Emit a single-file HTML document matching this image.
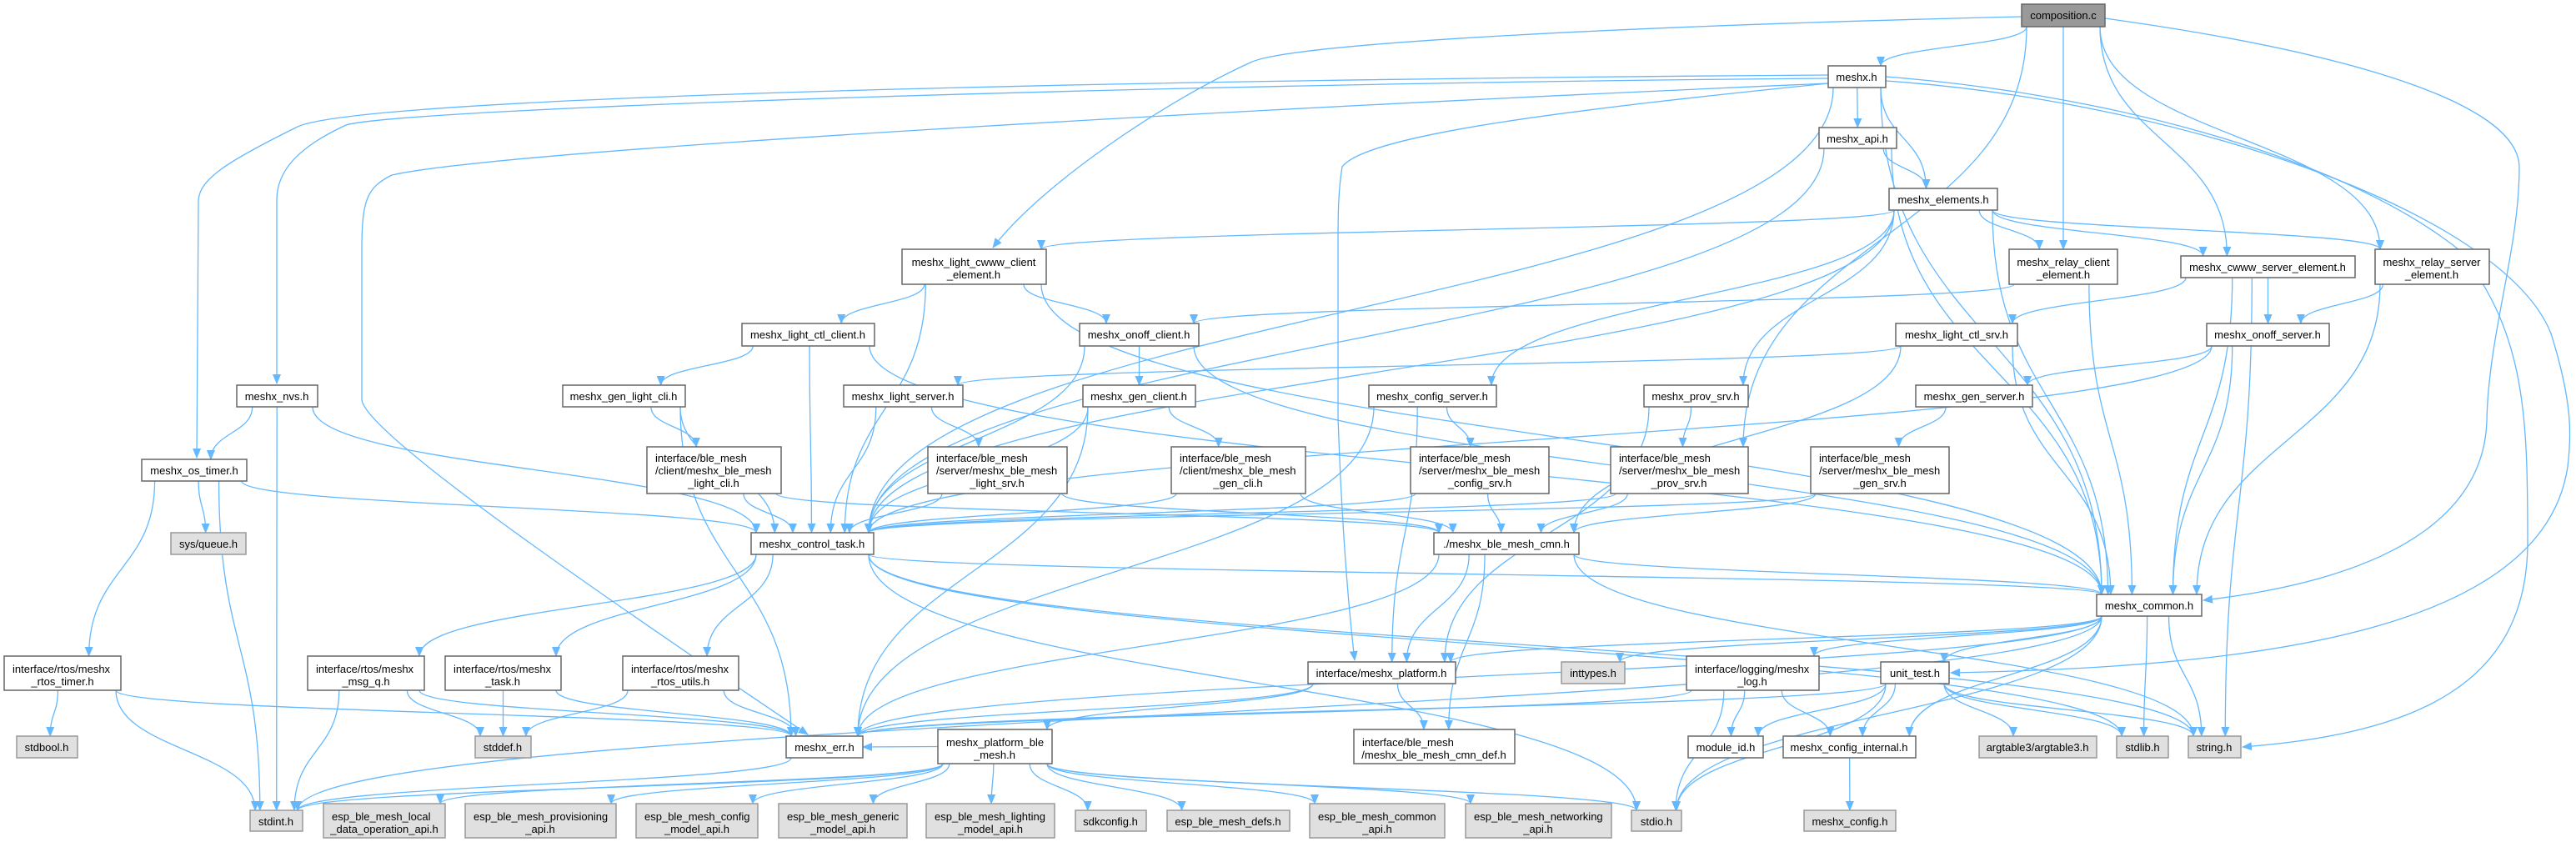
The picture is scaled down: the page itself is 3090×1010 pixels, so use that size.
<!DOCTYPE html>
<html><head><meta charset="utf-8"><style>
html,body{margin:0;padding:0;background:#fff;}
svg{display:block;}
text{font-family:"Liberation Sans",Arial,sans-serif;font-size:13px;fill:#000;}
</style></head><body>
<svg id="s" width="3090" height="1010" viewBox="0 0 3090 1010" xmlns="http://www.w3.org/2000/svg">
<defs><marker id="ar" markerWidth="12" markerHeight="10" refX="11" refY="5" orient="auto" markerUnits="userSpaceOnUse"><path d="M0,0 L12,5 L0,10 z" fill="#63b8ff"/></marker></defs>
<g id="edges" fill="none" stroke="#63b8ff" stroke-width="1.3"></g>
<g id="nodes">
<rect x="2425" y="5" width="100" height="27" fill="#999" stroke="#666" stroke-width="1.5"/><text x="2475" y="23" text-anchor="middle">composition.c</text>
<rect x="2193" y="79" width="69" height="26" fill="#fff" stroke="#666" stroke-width="1.5"/><text x="2227" y="97" text-anchor="middle">meshx.h</text>
<rect x="2182" y="153" width="93" height="25" fill="#fff" stroke="#666" stroke-width="1.5"/><text x="2228" y="171" text-anchor="middle">meshx_api.h</text>
<rect x="2266" y="226" width="130" height="26" fill="#fff" stroke="#666" stroke-width="1.5"/><text x="2331" y="244" text-anchor="middle">meshx_elements.h</text>
<rect x="2410" y="299" width="130" height="42" fill="#fff" stroke="#666" stroke-width="1.5"/><text x="2475" y="319" text-anchor="middle">meshx_relay_client</text><text x="2475" y="334" text-anchor="middle">_element.h</text>
<rect x="2616" y="307" width="209" height="26" fill="#fff" stroke="#666" stroke-width="1.5"/><text x="2720" y="325" text-anchor="middle">meshx_cwww_server_element.h</text>
<rect x="2849" y="299" width="137" height="42" fill="#fff" stroke="#666" stroke-width="1.5"/><text x="2917" y="319" text-anchor="middle">meshx_relay_server</text><text x="2917" y="334" text-anchor="middle">_element.h</text>
<rect x="1082" y="299" width="173" height="42" fill="#fff" stroke="#666" stroke-width="1.5"/><text x="1168" y="319" text-anchor="middle">meshx_light_cwww_client</text><text x="1168" y="334" text-anchor="middle">_element.h</text>
<rect x="890" y="388" width="159" height="27" fill="#fff" stroke="#666" stroke-width="1.5"/><text x="969" y="406" text-anchor="middle">meshx_light_ctl_client.h</text>
<rect x="1295" y="388" width="143" height="27" fill="#fff" stroke="#666" stroke-width="1.5"/><text x="1366" y="406" text-anchor="middle">meshx_onoff_client.h</text>
<rect x="2274" y="388" width="146" height="27" fill="#fff" stroke="#666" stroke-width="1.5"/><text x="2347" y="406" text-anchor="middle">meshx_light_ctl_srv.h</text>
<rect x="2647" y="388" width="147" height="27" fill="#fff" stroke="#666" stroke-width="1.5"/><text x="2720" y="406" text-anchor="middle">meshx_onoff_server.h</text>
<rect x="284" y="462" width="97" height="26" fill="#fff" stroke="#666" stroke-width="1.5"/><text x="332" y="480" text-anchor="middle">meshx_nvs.h</text>
<rect x="675" y="462" width="147" height="26" fill="#fff" stroke="#666" stroke-width="1.5"/><text x="748" y="480" text-anchor="middle">meshx_gen_light_cli.h</text>
<rect x="1012" y="462" width="143" height="26" fill="#fff" stroke="#666" stroke-width="1.5"/><text x="1083" y="480" text-anchor="middle">meshx_light_server.h</text>
<rect x="1299" y="462" width="135" height="26" fill="#fff" stroke="#666" stroke-width="1.5"/><text x="1366" y="480" text-anchor="middle">meshx_gen_client.h</text>
<rect x="1642" y="462" width="153" height="26" fill="#fff" stroke="#666" stroke-width="1.5"/><text x="1718" y="480" text-anchor="middle">meshx_config_server.h</text>
<rect x="1972" y="462" width="125" height="26" fill="#fff" stroke="#666" stroke-width="1.5"/><text x="2034" y="480" text-anchor="middle">meshx_prov_srv.h</text>
<rect x="2298" y="462" width="140" height="26" fill="#fff" stroke="#666" stroke-width="1.5"/><text x="2368" y="480" text-anchor="middle">meshx_gen_server.h</text>
<rect x="170" y="551" width="126" height="26" fill="#fff" stroke="#666" stroke-width="1.5"/><text x="233" y="569" text-anchor="middle">meshx_os_timer.h</text>
<rect x="776" y="536" width="161" height="56" fill="#fff" stroke="#666" stroke-width="1.5"/><text x="786" y="554">interface/ble_mesh</text><text x="786" y="569">/client/meshx_ble_mesh</text><text x="856" y="584" text-anchor="middle">_light_cli.h</text>
<rect x="1113" y="536" width="167" height="56" fill="#fff" stroke="#666" stroke-width="1.5"/><text x="1123" y="554">interface/ble_mesh</text><text x="1123" y="569">/server/meshx_ble_mesh</text><text x="1196" y="584" text-anchor="middle">_light_srv.h</text>
<rect x="1405" y="536" width="161" height="56" fill="#fff" stroke="#666" stroke-width="1.5"/><text x="1415" y="554">interface/ble_mesh</text><text x="1415" y="569">/client/meshx_ble_mesh</text><text x="1485" y="584" text-anchor="middle">_gen_cli.h</text>
<rect x="1692" y="536" width="166" height="56" fill="#fff" stroke="#666" stroke-width="1.5"/><text x="1702" y="554">interface/ble_mesh</text><text x="1702" y="569">/server/meshx_ble_mesh</text><text x="1775" y="584" text-anchor="middle">_config_srv.h</text>
<rect x="1932" y="536" width="165" height="56" fill="#fff" stroke="#666" stroke-width="1.5"/><text x="1942" y="554">interface/ble_mesh</text><text x="1942" y="569">/server/meshx_ble_mesh</text><text x="2014" y="584" text-anchor="middle">_prov_srv.h</text>
<rect x="2172" y="536" width="166" height="56" fill="#fff" stroke="#666" stroke-width="1.5"/><text x="2182" y="554">interface/ble_mesh</text><text x="2182" y="569">/server/meshx_ble_mesh</text><text x="2255" y="584" text-anchor="middle">_gen_srv.h</text>
<rect x="205" y="639" width="90" height="26" fill="#e0e0e0" stroke="#999" stroke-width="1.5"/><text x="250" y="657" text-anchor="middle">sys/queue.h</text>
<rect x="901" y="639" width="147" height="26" fill="#fff" stroke="#666" stroke-width="1.5"/><text x="974" y="657" text-anchor="middle">meshx_control_task.h</text>
<rect x="1720" y="639" width="174" height="26" fill="#fff" stroke="#666" stroke-width="1.5"/><text x="1807" y="657" text-anchor="middle">./meshx_ble_mesh_cmn.h</text>
<rect x="2515" y="713" width="126" height="26" fill="#fff" stroke="#666" stroke-width="1.5"/><text x="2578" y="731" text-anchor="middle">meshx_common.h</text>
<rect x="5" y="787" width="140" height="41" fill="#fff" stroke="#666" stroke-width="1.5"/><text x="15" y="807">interface/rtos/meshx</text><text x="75" y="822" text-anchor="middle">_rtos_timer.h</text>
<rect x="369" y="787" width="140" height="41" fill="#fff" stroke="#666" stroke-width="1.5"/><text x="379" y="807">interface/rtos/meshx</text><text x="439" y="822" text-anchor="middle">_msg_q.h</text>
<rect x="534" y="787" width="139" height="41" fill="#fff" stroke="#666" stroke-width="1.5"/><text x="544" y="807">interface/rtos/meshx</text><text x="603" y="822" text-anchor="middle">_task.h</text>
<rect x="747" y="787" width="139" height="41" fill="#fff" stroke="#666" stroke-width="1.5"/><text x="757" y="807">interface/rtos/meshx</text><text x="816" y="822" text-anchor="middle">_rtos_utils.h</text>
<rect x="1569" y="794" width="177" height="26" fill="#fff" stroke="#666" stroke-width="1.5"/><text x="1657" y="812" text-anchor="middle">interface/meshx_platform.h</text>
<rect x="1873" y="794" width="76" height="26" fill="#e0e0e0" stroke="#999" stroke-width="1.5"/><text x="1911" y="812" text-anchor="middle">inttypes.h</text>
<rect x="2023" y="787" width="159" height="41" fill="#fff" stroke="#666" stroke-width="1.5"/><text x="2033" y="807">interface/logging/meshx</text><text x="2102" y="822" text-anchor="middle">_log.h</text>
<rect x="2256" y="794" width="82" height="26" fill="#fff" stroke="#666" stroke-width="1.5"/><text x="2297" y="812" text-anchor="middle">unit_test.h</text>
<rect x="20" y="883" width="73" height="26" fill="#e0e0e0" stroke="#999" stroke-width="1.5"/><text x="56" y="901" text-anchor="middle">stdbool.h</text>
<rect x="570" y="883" width="67" height="26" fill="#e0e0e0" stroke="#999" stroke-width="1.5"/><text x="603" y="901" text-anchor="middle">stddef.h</text>
<rect x="943" y="883" width="92" height="26" fill="#fff" stroke="#666" stroke-width="1.5"/><text x="989" y="901" text-anchor="middle">meshx_err.h</text>
<rect x="1125" y="875" width="137" height="41" fill="#fff" stroke="#666" stroke-width="1.5"/><text x="1135" y="895">meshx_platform_ble</text><text x="1193" y="910" text-anchor="middle">_mesh.h</text>
<rect x="1624" y="875" width="193" height="41" fill="#fff" stroke="#666" stroke-width="1.5"/><text x="1634" y="895">interface/ble_mesh</text><text x="1720" y="910" text-anchor="middle">/meshx_ble_mesh_cmn_def.h</text>
<rect x="2025" y="883" width="90" height="26" fill="#fff" stroke="#666" stroke-width="1.5"/><text x="2070" y="901" text-anchor="middle">module_id.h</text>
<rect x="2139" y="883" width="159" height="26" fill="#fff" stroke="#666" stroke-width="1.5"/><text x="2218" y="901" text-anchor="middle">meshx_config_internal.h</text>
<rect x="2374" y="883" width="141" height="26" fill="#e0e0e0" stroke="#999" stroke-width="1.5"/><text x="2444" y="901" text-anchor="middle">argtable3/argtable3.h</text>
<rect x="2539" y="883" width="62" height="26" fill="#e0e0e0" stroke="#999" stroke-width="1.5"/><text x="2570" y="901" text-anchor="middle">stdlib.h</text>
<rect x="2625" y="883" width="63" height="26" fill="#e0e0e0" stroke="#999" stroke-width="1.5"/><text x="2656" y="901" text-anchor="middle">string.h</text>
<rect x="300" y="972" width="63" height="25" fill="#e0e0e0" stroke="#999" stroke-width="1.5"/><text x="331" y="990" text-anchor="middle">stdint.h</text>
<rect x="388" y="964" width="146" height="41" fill="#e0e0e0" stroke="#999" stroke-width="1.5"/><text x="398" y="984">esp_ble_mesh_local</text><text x="461" y="999" text-anchor="middle">_data_operation_api.h</text>
<rect x="558" y="964" width="181" height="41" fill="#e0e0e0" stroke="#999" stroke-width="1.5"/><text x="568" y="984">esp_ble_mesh_provisioning</text><text x="648" y="999" text-anchor="middle">_api.h</text>
<rect x="763" y="964" width="146" height="41" fill="#e0e0e0" stroke="#999" stroke-width="1.5"/><text x="773" y="984">esp_ble_mesh_config</text><text x="836" y="999" text-anchor="middle">_model_api.h</text>
<rect x="934" y="964" width="154" height="41" fill="#e0e0e0" stroke="#999" stroke-width="1.5"/><text x="944" y="984">esp_ble_mesh_generic</text><text x="1011" y="999" text-anchor="middle">_model_api.h</text>
<rect x="1111" y="964" width="154" height="41" fill="#e0e0e0" stroke="#999" stroke-width="1.5"/><text x="1121" y="984">esp_ble_mesh_lighting</text><text x="1188" y="999" text-anchor="middle">_model_api.h</text>
<rect x="1290" y="972" width="85" height="25" fill="#e0e0e0" stroke="#999" stroke-width="1.5"/><text x="1332" y="990" text-anchor="middle">sdkconfig.h</text>
<rect x="1400" y="972" width="147" height="25" fill="#e0e0e0" stroke="#999" stroke-width="1.5"/><text x="1473" y="990" text-anchor="middle">esp_ble_mesh_defs.h</text>
<rect x="1571" y="964" width="162" height="41" fill="#e0e0e0" stroke="#999" stroke-width="1.5"/><text x="1581" y="984">esp_ble_mesh_common</text><text x="1652" y="999" text-anchor="middle">_api.h</text>
<rect x="1758" y="964" width="175" height="41" fill="#e0e0e0" stroke="#999" stroke-width="1.5"/><text x="1768" y="984">esp_ble_mesh_networking</text><text x="1845" y="999" text-anchor="middle">_api.h</text>
<rect x="1957" y="972" width="60" height="25" fill="#e0e0e0" stroke="#999" stroke-width="1.5"/><text x="1987" y="990" text-anchor="middle">stdio.h</text>
<rect x="2164" y="972" width="110" height="25" fill="#e0e0e0" stroke="#999" stroke-width="1.5"/><text x="2219" y="990" text-anchor="middle">meshx_config.h</text>
</g>
</svg>
<script>
var N={
comp:[2425,2525,5,32],meshx:[2193,2262,79,105],api:[2182,2275,153,178],elem:[2266,2396,226,252],
relc:[2410,2540,299,341],cwws:[2616,2825,307,333],rels:[2849,2986,299,341],lcwc:[1082,1255,299,341],
lctc:[890,1049,388,415],onc:[1295,1438,388,415],lcts:[2274,2420,388,415],ons:[2647,2794,388,415],
nvs:[284,381,462,488],glc:[675,822,462,488],lsrv:[1012,1155,462,488],gcl:[1299,1434,462,488],
cfgs:[1642,1795,462,488],prov:[1972,2097,462,488],gsrv:[2298,2438,462,488],ost:[170,296,551,577],
blc:[776,937,536,592],bls:[1113,1280,536,592],bgc:[1405,1566,536,592],bcs:[1692,1858,536,592],
bps:[1932,2097,536,592],bgs:[2172,2338,536,592],sq:[205,295,639,665],ct:[901,1048,639,665],
cmn:[1720,1894,639,665],com:[2515,2641,713,739],rt:[5,145,787,828],mq:[369,509,787,828],
tk:[534,673,787,828],ru:[747,886,787,828],plat:[1569,1746,794,820],inty:[1873,1949,794,820],
log:[2023,2182,787,828],ut:[2256,2338,794,820],sbool:[20,93,883,909],sdef:[570,637,883,909],
err:[943,1035,883,909],pbm:[1125,1262,875,916],cdef:[1624,1817,875,916],mid:[2025,2115,883,909],
ci:[2139,2298,883,909],arg:[2374,2515,883,909],slib:[2539,2601,883,909],str:[2625,2688,883,909],
sint:[300,363,972,997],loc:[388,534,964,1005],prv:[558,739,964,1005],cfm:[763,909,964,1005],
gen:[934,1088,964,1005],lig:[1111,1265,964,1005],sdk:[1290,1375,972,997],defs:[1400,1547,972,997],
capi:[1571,1733,964,1005],net:[1758,1933,964,1005],sio:[1957,2017,972,997],mcfg:[2164,2274,972,997]};
var C={
"meshx ost":"M2193,90 C1400,95 420,115 355,153 C270,195 240,215 238,240 L236,549",
"meshx nvs":"M2193,94 C1400,100 480,130 415,150 C350,180 332,210 332,240 L332,460",
"meshx err":"M2193,100 C1500,130 600,180 470,210 C440,225 434,240 434,300 L434,480 C440,520 700,700 969,881",
"comp lcwc":"M2425,20 C2000,30 1550,50 1500,75 C1400,120 1250,220 1191,297",
"meshx plat":"M2193,100 C1900,130 1640,160 1610,200 C1605,230 1605,260 1605,300 L1605,500 C1610,650 1620,750 1625,792",
"meshx str":"M2262,92 C2500,110 2800,180 2950,300 C3030,400 3032,500 3032,650 C3032,820 2900,880 2690,896",
"comp com":"M2525,22 C2800,60 3020,120 3022,200 C3022,300 2985,400 2983,505 C2980,600 2900,690 2643,720",
"meshx ut":"M2262,97 C2600,120 3000,250 3060,400 C3085,480 3085,520 3080,560 C3050,760 2700,800 2340,807"};
var E="comp meshx,comp lcwc,comp relc,comp cwws,comp rels,comp com,comp bps,"+
"meshx ost,meshx nvs,meshx err,meshx ct,meshx api,meshx elem,meshx com,meshx ut,meshx plat,meshx str,"+
"api elem,api ct,api com,elem lcwc,elem relc,elem cwws,elem rels,elem cfgs,elem prov,elem com,elem ct,"+
"lcwc lctc,lcwc onc,lcwc com,lcwc ct,lctc glc,lctc ct,lctc com,onc gcl,onc ct,onc com,relc onc,relc com,"+
"cwws lcts,cwws ons,cwws com,cwws str,rels ons,rels com,lcts lsrv,lcts cmn,lcts com,ons gsrv,ons ct,ons com,"+
"nvs ost,nvs sint,nvs ct,glc blc,glc ct,glc err,lsrv bls,lsrv ct,gcl bgc,gcl ct,gcl err,cfgs bcs,cfgs err,cfgs plat,"+
"prov bps,prov plat,gsrv bgs,ost sq,ost rt,ost sint,ost ct,blc ct,blc cmn,bls ct,bls cmn,bgc ct,bgc cmn,"+
"bcs ct,bcs cmn,bps ct,bps cmn,bgs ct,bgs cmn,ct mq,ct tk,ct ru,ct com,ct sio,ct slib,ct str,"+
"cmn plat,cmn cdef,cmn err,cmn com,cmn str,com plat,com inty,com log,com ut,com ci,com err,com sio,com slib,com str,com sint,"+
"rt sbool,rt sint,rt err,mq sdef,mq sint,mq err,tk sdef,tk err,ru sdef,ru err,plat pbm,plat cdef,plat err,"+
"log mid,log ci,log sio,log err,ut mid,ut ci,ut arg,ut slib,ut str,ut sio,ut err,ci mcfg,err sint,"+
"pbm sint,pbm loc,pbm prv,pbm cfm,pbm gen,pbm lig,pbm sdk,pbm defs,pbm capi,pbm net,pbm sio,pbm err";
var g=document.getElementById('edges'),ns="http://www.w3.org/2000/svg";
function cl(v,a,b){return Math.max(a,Math.min(b,v));}
E.split(',').forEach(function(p){var q=p.split(' '),s=N[q[0]],t=N[q[1]];if(!s||!t)return;
var scx=(s[0]+s[1])/2,tcx=(t[0]+t[1])/2,d;
if(C[p]){d=C[p];}
else if(t[2]>s[3]+8){
var sx=cl(scx+(tcx-scx)*0.3,s[0]+6,s[1]-6),sy=s[3];
var tx=cl(tcx+(scx-tcx)*0.2,t[0]+6,t[1]-6),ty=t[2];
var m=(ty-sy)*0.5;d="M"+sx+","+sy+" C"+sx+","+(sy+m)+" "+tx+","+(ty-m)+" "+tx+","+ty;
}else{
var sy=(s[2]+s[3])/2,ty=(t[2]+t[3])/2,sx,tx;
if(tcx>scx){sx=s[1];tx=t[0];}else{sx=s[0];tx=t[1];}
d="M"+sx+","+sy+" C"+((sx+tx)/2)+","+sy+" "+((sx+tx)/2)+","+ty+" "+tx+","+ty;}
var e=document.createElementNS(ns,'path');e.setAttribute('d',d);e.setAttribute('marker-end','url(#ar)');g.appendChild(e);});
</script>
</body></html>
